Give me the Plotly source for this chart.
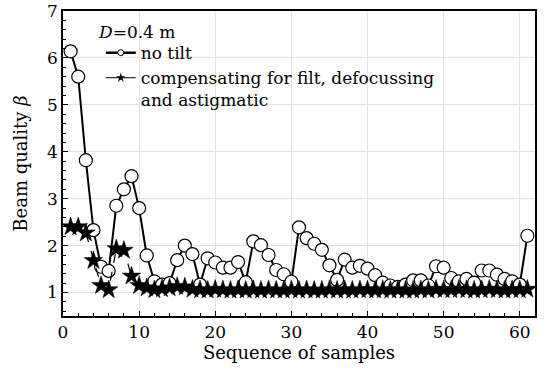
import plotly.graph_objects as go

samples = list(range(1, 62))
no_tilt = [6.14, 5.60, 3.82, 2.33, 1.55, 1.46, 2.85, 3.20, 3.48, 2.80,
           1.79, 1.24, 1.17, 1.20, 1.69, 2.00, 1.82, 1.17, 1.73, 1.64,
           1.53, 1.53, 1.65, 1.22, 2.09, 2.01, 1.80, 1.48, 1.39, 1.23,
           2.39, 2.16, 2.04, 1.91, 1.58, 1.27, 1.70, 1.53, 1.57, 1.51,
           1.37, 1.21, 1.15, 1.12, 1.17, 1.26, 1.26, 1.15, 1.56, 1.53,
           1.31, 1.24, 1.29, 1.21, 1.47, 1.47, 1.38, 1.29, 1.24, 1.17,
           2.21]
compensated = [2.40, 2.40, 2.27, 1.68, 1.15, 1.06, 1.93, 1.90, 1.35, 1.15,
               1.10, 1.06, 1.08, 1.10, 1.13, 1.12, 1.07, 1.06, 1.05, 1.07,
               1.06, 1.05, 1.06, 1.05, 1.06, 1.05, 1.06, 1.05, 1.05, 1.06,
               1.05, 1.06, 1.05, 1.05, 1.06, 1.05, 1.06, 1.05, 1.06, 1.06,
               1.05, 1.06, 1.05, 1.06, 1.05, 1.05, 1.06, 1.05, 1.07, 1.06,
               1.06, 1.07, 1.06, 1.05, 1.06, 1.07, 1.06, 1.05, 1.06, 1.06,
               1.07]
name_a = "no tilt"
name_b = "compensating for filt, defocussing<br>and astigmatic"
legend_title = "<i>D</i>=0.4 m"

FONT = "DejaVu Serif"

fig = go.Figure()
fig.add_trace(go.Scatter(
    x=samples, y=no_tilt, mode="lines+markers", showlegend=False,
    line=dict(color="black", width=2),
    marker=dict(symbol="circle", size=13, color="white",
                line=dict(color="black", width=1.2)),
))
fig.add_trace(go.Scatter(
    x=samples, y=compensated, mode="lines+markers", showlegend=False,
    line=dict(color="black", width=1.2, dash="dash"),
    marker=dict(symbol="star", size=14, color="black",
                line=dict(color="black", width=0.5)),
))
# legend-only entries with small symbols
fig.add_trace(go.Scatter(
    x=[None], y=[None], mode="lines+markers", name=name_a,
    line=dict(color="black", width=2.5),
    marker=dict(symbol="circle", size=6, color="white",
                line=dict(color="black", width=1)),
))
fig.add_trace(go.Scatter(
    x=[None], y=[None], mode="lines+markers", name=name_b,
    line=dict(color="black", width=1),
    marker=dict(symbol="star", size=7, color="black"),
))

axis_common = dict(
    showline=True, linecolor="black", linewidth=1.5, mirror=True,
    ticks="inside", ticklen=5, tickcolor="black", tickwidth=1,
    showgrid=True, gridcolor="#e3e3e3", gridwidth=1, zeroline=False,
    automargin=False,
    tickfont=dict(family=FONT, size=17, color="black"),
    minor=dict(ticks="inside", ticklen=3, tickcolor="black", showgrid=False),
)

fig.update_layout(
    width=548, height=375,
    margin=dict(l=63, r=13, t=11, b=59),
    paper_bgcolor="white", plot_bgcolor="white",
    font=dict(family=FONT, size=17, color="black"),
    xaxis=dict(range=[0, 62], dtick=10, tick0=0,
               title=dict(text="Sequence of samples", font=dict(family=FONT, size=18), standoff=4),
               **axis_common),
    yaxis=dict(range=[0.5, 7], dtick=1, tick0=1,
               title=dict(text="Beam quality <i>β</i>", font=dict(family=FONT, size=18), standoff=15),
               **axis_common),
    legend=dict(
        x=0.08, y=0.921, xanchor="left", yanchor="top",
        bgcolor="rgba(0,0,0,0)", borderwidth=0,
        font=dict(family=FONT, size=17, color="black"),
        tracegroupgap=0, valign="top", itemwidth=30,
    ),
    annotations=[dict(
        text=legend_title, xref="paper", yref="paper", x=0.07, y=0.932,
        xanchor="left", yanchor="middle", showarrow=False,
        font=dict(family=FONT, size=17, color="black"),
    )],
)

fig.write_html("out.html")
